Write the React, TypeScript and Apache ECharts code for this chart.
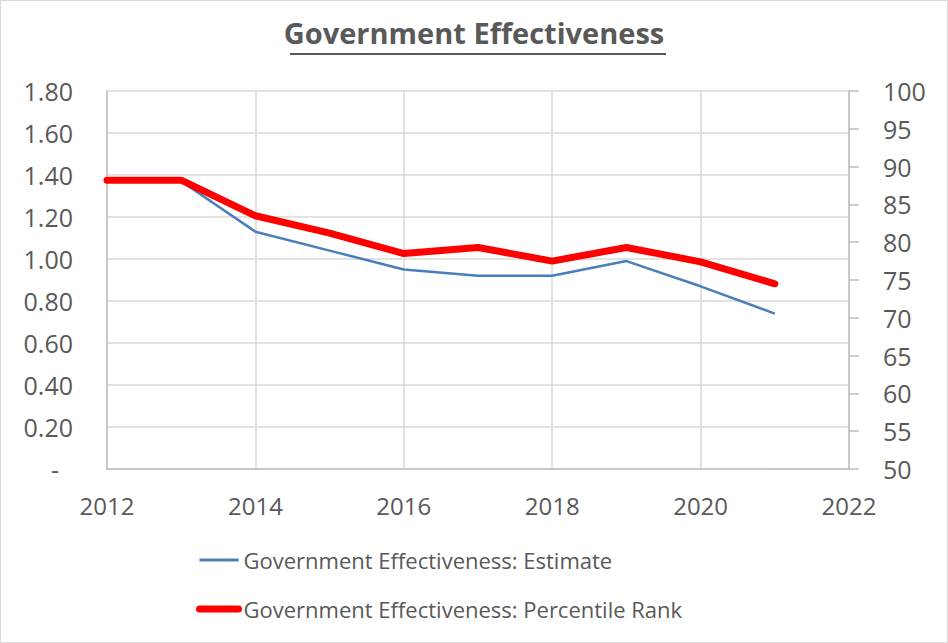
import React, { useEffect, useRef } from "react";
import * as echarts from "echarts";

const years = [2012, 2013, 2014, 2015, 2016, 2017, 2018, 2019, 2020, 2021];
const estimate = [1.37, 1.37, 1.13, 1.04, 0.95, 0.92, 0.92, 0.99, 0.87, 0.74];
const percentileRank = [88.2, 88.2, 83.5, 81.2, 78.5, 79.3, 77.5, 79.3, 77.4, 74.5];
const seriesNames = [
  "Government Effectiveness: Estimate",
  "Government Effectiveness: Percentile Rank",
];
const titleText = "Government Effectiveness";

const FONT = "'Open Sans', 'Noto Sans', sans-serif";
const TXT = "#595959";

export default function App() {
  const ref = useRef<HTMLDivElement>(null);
  useEffect(() => {
    document.body.style.margin = "0";
    const chart = echarts.init(ref.current!, null, { renderer: "svg" });
    chart.setOption({
      animation: false,
      backgroundColor: "#ffffff",
      textStyle: { fontFamily: FONT },
      title: {
        text: titleText,
        left: "center",
        top: 12,
        textStyle: { fontSize: 29, fontWeight: "bold", color: TXT, fontFamily: FONT },
      },
      graphic: [
        {
          type: "line",
          shape: { x1: 289, y1: 53, x2: 665, y2: 53 },
          style: { stroke: TXT, lineWidth: 2 },
        },
      ],
      legend: {
        orient: "vertical",
        left: 195,
        top: 546,
        padding: 0,
        itemWidth: 39,
        itemHeight: 20,
        itemGap: 23,
        itemStyle: { opacity: 0 },
        textStyle: { fontSize: 22, color: TXT, fontFamily: FONT, lineHeight: 26 },
        data: [
          { name: seriesNames[0], lineStyle: { width: 3, color: "#4a7ebb" } },
          { name: seriesNames[1], lineStyle: { width: 7, color: "#ff0000", cap: "round" } },
        ],
      },
      grid: { left: 106, right: 98, top: 90, bottom: 173, containLabel: false },
      xAxis: {
        type: "value",
        min: 2012,
        max: 2022,
        interval: 2,
        axisLine: { show: true, lineStyle: { color: "#bfbfbf", width: 1.5 } },
        axisTick: { show: false },
        splitLine: { show: true, lineStyle: { color: "#d9d9d9", width: 1.5 } },
        axisLabel: {
          formatter: (v: number) => String(v),
          fontSize: 24,
          color: TXT,
          margin: 24,
          fontFamily: FONT,
        },
      },
      yAxis: [
        {
          type: "value",
          min: 0,
          max: 1.8,
          interval: 0.2,
          axisLine: { show: true, lineStyle: { color: "#bfbfbf", width: 1.5 } },
          axisTick: { show: false },
          splitLine: { show: true, lineStyle: { color: "#d9d9d9", width: 1.5 } },
          axisLabel: {
            formatter: (v: number) => (v === 0 ? "{d|-}" : v.toFixed(2)),
            fontSize: 25,
            color: TXT,
            margin: 34,
            fontFamily: FONT,
            rich: { d: { fontSize: 25, color: TXT, padding: [0, 14, 0, 0], fontFamily: FONT } },
          },
        },
        {
          type: "value",
          position: "right",
          min: 50,
          max: 100,
          interval: 5,
          axisLine: { show: true, lineStyle: { color: "#bfbfbf", width: 1.5 } },
          axisTick: { show: true, inside: false, length: 10, lineStyle: { color: "#bfbfbf", width: 1.5 } },
          splitLine: { show: false },
          axisLabel: {
            fontSize: 25,
            color: TXT,
            margin: 34,
            fontFamily: FONT,
          },
        },
      ],
      series: [
        {
          name: seriesNames[0],
          type: "line",
          yAxisIndex: 0,
          symbol: "none",
          data: years.map((y, i) => [y, estimate[i]]),
          lineStyle: { color: "#4a7ebb", width: 2.5 },
          itemStyle: { color: "#4a7ebb" },
          z: 2,
        },
        {
          name: seriesNames[1],
          type: "line",
          yAxisIndex: 1,
          symbol: "none",
          data: years.map((y, i) => [y, percentileRank[i]]),
          lineStyle: { color: "#ff0000", width: 7, cap: "round", join: "round" },
          itemStyle: { color: "#ff0000" },
          z: 3,
        },
      ],
    });
    return () => chart.dispose();
  }, []);
  return (
    <div
      ref={ref}
      style={{ width: 946, height: 641, border: "1px solid #d9d9d9", background: "#fff" }}
    />
  );
}
